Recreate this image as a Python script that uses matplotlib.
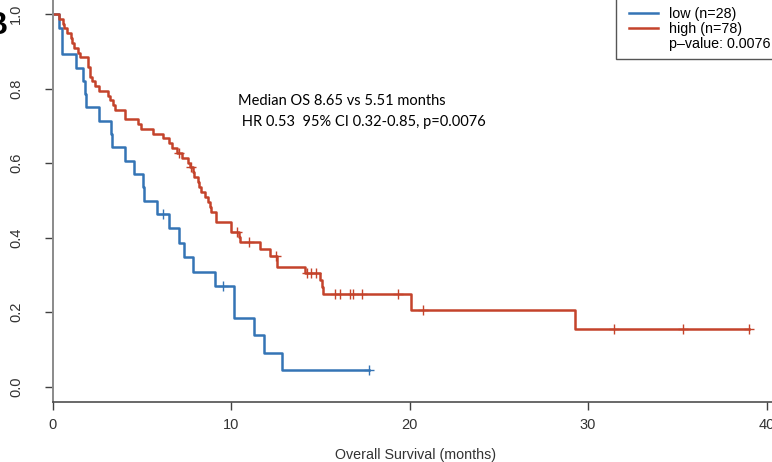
import numpy as np
import matplotlib
matplotlib.use('Agg')
from matplotlib import pyplot as plt
from matplotlib.lines import Line2D
from matplotlib.patches import Rectangle

plt.rcParams['font.family'] = ['Liberation Sans', 'DejaVu Sans']

# Kaplan-Meier curves: month at which survival drops, and the survival after it
low_times = [0, 0.36, 0.55, 1.32, 1.73, 1.80, 1.88, 2.62, 3.28, 3.33, 4.06, 4.57,
             5.09, 5.15, 5.84, 6.51, 7.10, 7.39, 7.85, 9.10, 10.17, 11.29, 11.87, 12.84]
low_surv = [1.0, 0.964, 0.893, 0.857, 0.821, 0.786, 0.750, 0.714, 0.679, 0.643, 0.607, 0.571,
            0.536, 0.500, 0.464, 0.425, 0.387, 0.348, 0.309, 0.270, 0.184, 0.138, 0.092, 0.046]
low_censor = [6.17, 9.53, 17.75]

high_times = [0, 0.38, 0.57, 0.65, 0.79, 1.03, 1.10, 1.20, 1.45, 1.54,
              2.00, 2.10, 2.23, 2.38, 2.60, 3.13, 3.22, 3.41, 3.50, 4.06,
              4.81, 4.94, 5.65, 6.17, 6.55, 6.70, 6.96, 7.28, 7.61, 7.70,
              7.89, 7.92, 8.15, 8.22, 8.30, 8.54, 8.73, 8.82, 8.86, 9.15,
              9.98, 10.45, 10.50, 11.62, 12.18, 12.56, 14.16, 14.99, 15.08, 15.17,
              20.07, 29.27]
high_surv = [1.0, 0.987, 0.974, 0.962, 0.949, 0.936, 0.923, 0.910, 0.897, 0.885,
             0.859, 0.833, 0.821, 0.808, 0.795, 0.782, 0.769, 0.756, 0.744, 0.718,
             0.705, 0.692, 0.679, 0.667, 0.654, 0.641, 0.628, 0.615, 0.602, 0.589,
             0.576, 0.563, 0.550, 0.536, 0.523, 0.509, 0.496, 0.482, 0.469, 0.442,
             0.415, 0.401, 0.388, 0.370, 0.352, 0.322, 0.305, 0.287, 0.268, 0.248,
             0.206, 0.155]
high_censor = [7.10, 7.78, 10.35, 11.03, 12.50, 14.24, 14.47, 14.76, 15.85, 16.10,
               16.64, 16.86, 17.36, 19.38, 20.77, 31.46, 35.34, 39.0]

legend_labels = ['low (n=28)', 'high (n=78)', 'p\u2013value: 0.0076']
note_line1 = 'Median OS 8.65 vs 5.51 months'
note_line2 = ' HR 0.53  95% CI 0.32-0.85, p=0.0076'

blue = '#3474b5'
red = '#c4432b'

W, H = 772, 462
fig = plt.figure(figsize=(W / 100, H / 100), dpi=100)
ax = fig.add_axes([52.5 / W, 1 - 401.7 / H, 726 / W, 402.3 / H])


def km_curve(times, surv, censor, color):
    t = np.array(times)
    s = np.array(surv)
    end = max(censor[-1], t[-1])
    ax.step(np.append(t, end), np.append(s, s[-1]), where='post', color=color, lw=1.8)
    # survival level at each censoring time
    idx = np.searchsorted(t, censor, side='right') - 1
    ax.plot(censor, s[idx], ls='none', marker='+', ms=7.5, mew=1.0, color=color)


km_curve(low_times, low_surv, low_censor, blue)
km_curve(high_times, high_surv, high_censor, red)

ax.set_xlim(0, 40.67)
ax.set_ylim(-0.04, 1.04)
ax.set_xticks([0, 10, 20, 30, 40])
ax.set_yticks([0.0, 0.2, 0.4, 0.6, 0.8, 1.0])
ax.set_yticklabels(['0.0', '0.2', '0.4', '0.6', '0.8', '1.0'], rotation=90, va='center')
ax.tick_params(axis='both', direction='out', length=6, width=1, color='#404040',
               labelsize=10.5, labelcolor='#333333')
ax.tick_params(axis='y', pad=15)
ax.tick_params(axis='x', pad=6)
ax.set_xlabel('Overall Survival (months)', fontsize=10.3, color='#333333', labelpad=11)

for side in ['left', 'top', 'right']:
    ax.spines[side].set_color('#8a8a8a')
    ax.spines[side].set_linewidth(1.4)
ax.spines['bottom'].set_color('#404040')
ax.spines['bottom'].set_linewidth(1.1)

ax.text(10.39, 0.767, note_line1, fontsize=10.5, family=['Lato', 'DejaVu Sans'], va='center')
ax.text(10.39, 0.711, note_line2, fontsize=10.5, family=['Lato', 'DejaVu Sans'], va='center')

# legend box runs past the top and right edges
box = Rectangle((615.7 / W, 1 - 59.3 / H), 0.5, 0.5, transform=fig.transFigure,
                facecolor='white', edgecolor='#555555', lw=1.0, zorder=4)
fig.add_artist(box)

handles = [Line2D([], [], color=blue, lw=1.8),
           Line2D([], [], color=red, lw=1.8),
           Line2D([], [], color='none')]
leg = fig.legend(handles, legend_labels, loc='lower left',
                 bbox_to_anchor=(621.5 / W, 1 - 59.3 / H), bbox_transform=fig.transFigure,
                 borderaxespad=0, fontsize=10.3, frameon=False,
                 handlelength=2.0, handletextpad=0.8,
                 labelspacing=0.1, borderpad=0.55)
leg.set_zorder(5)

# panel letter, mostly outside the left edge
fig.text(-0.018, 0.944, 'B', fontsize=22, fontweight='bold', ha='left', va='center')

fig.savefig('out.png', dpi=100)
